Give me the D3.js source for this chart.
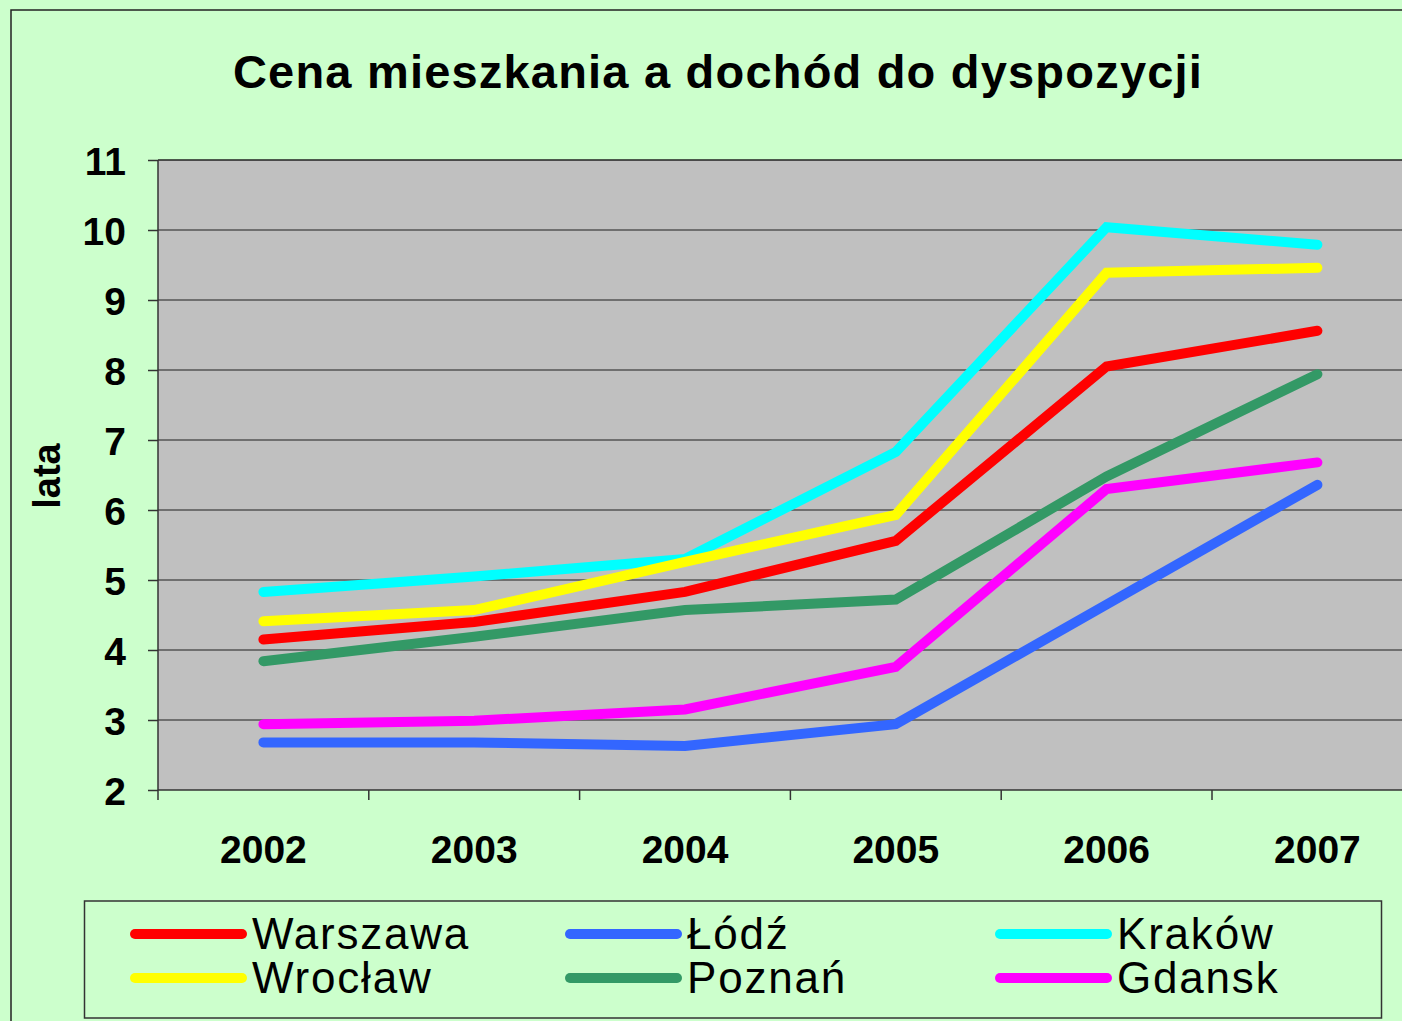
<!DOCTYPE html>
<html><head><meta charset="utf-8">
<script src="https://cdn.jsdelivr.net/npm/d3@7"></script>
<style>
html,body{margin:0;padding:0;background:#CCFFCC;}
svg{display:block;font-family:"Liberation Sans",Arial,sans-serif;}
</style></head>
<body>
<svg id="chart" width="1402" height="1021"></svg>
<script>
const years = ["2002","2003","2004","2005","2006","2007"];
const cities = ["Warszawa","Łódź","Kraków","Wrocław","Poznań","Gdansk"];
const colors = ["#FF0000","#3366FF","#00FFFF","#FFFF00","#339966","#FF00FF"];
const warszawa = [4.15, 4.40, 4.83, 5.56, 8.05, 8.56];
const lodz     = [2.68, 2.68, 2.63, 2.94, 4.65, 6.36];
const krakow   = [4.83, 5.05, 5.30, 6.83, 10.04, 9.79];
const wroclaw  = [4.41, 4.57, 5.26, 5.93, 9.39, 9.46];
const poznan   = [3.84, 4.19, 4.57, 4.72, 6.48, 7.94];
const gdansk   = [2.94, 2.99, 3.15, 3.76, 6.30, 6.68];
const yTicks = [2,3,4,5,6,7,8,9,10,11];
const title = "Cena mieszkania a dochód do dyspozycji";
const yTitle = "lata";

const series = [warszawa, lodz, krakow, wroclaw, poznan, gdansk];
const drawOrder = [1,5,4,0,2,3];

const svg = d3.select("#chart");
svg.append("rect").attr("width",1402).attr("height",1021).attr("fill","#CCFFCC");
svg.append("rect").attr("x",11).attr("y",10).attr("width",1500).attr("height",1100)
  .attr("fill","#CCFFCC").attr("stroke","#222").attr("stroke-width",1.5);

const pLeft=158, pTop=160, pBottom=790, bandW=210.8;
const pRight = pLeft+bandW*years.length;
const x = d3.scaleBand().domain(years).range([pLeft, pRight]).padding(0);
const y = d3.scaleLinear().domain([2,11]).range([pBottom, pTop]);

svg.append("rect").attr("x",pLeft).attr("y",pTop).attr("width",pRight-pLeft).attr("height",pBottom-pTop)
  .attr("fill","#C0C0C0");

// gridlines
svg.append("g").selectAll("line").data(yTicks.filter(d=>d>2)).join("line")
  .attr("x1",pLeft).attr("x2",pRight)
  .attr("y1",d=>y(d)).attr("y2",d=>y(d))
  .attr("stroke",d=>d===11?"#222":"#555").attr("stroke-width",1.5);

// y axis
const yAxis = d3.axisLeft(y).tickValues(yTicks).tickSize(10).tickPadding(22).tickFormat(d3.format("d"));
const gy = svg.append("g").attr("transform",`translate(${pLeft},0)`).call(yAxis);
gy.select(".domain").attr("stroke","#333").attr("stroke-width",1.5).attr("d",`M0,${pTop}V${pBottom}`);
gy.selectAll(".tick line").attr("stroke","#333").attr("stroke-width",1.5);
gy.selectAll(".tick text").attr("font-size",39).attr("font-weight","bold").attr("fill","#000")
  .attr("font-family","Liberation Sans, Arial, sans-serif").attr("dy","0.36em");

// x axis
const xAxis = d3.axisBottom(x).tickSize(0).tickPadding(0);
const gx = svg.append("g").attr("transform",`translate(0,${pBottom})`).call(xAxis);
gx.select(".domain").remove();
gx.selectAll(".tick text").attr("font-size",39).attr("font-weight","bold").attr("fill","#000")
  .attr("font-family","Liberation Sans, Arial, sans-serif").attr("y",73).attr("dy",0);
svg.append("g").selectAll("line").data(years).join("line")
  .attr("x1",d=>x(d)).attr("x2",d=>x(d)).attr("y1",pBottom).attr("y2",pBottom+10)
  .attr("stroke","#333").attr("stroke-width",1.5);
svg.append("line").attr("x1",pLeft).attr("x2",pRight).attr("y1",pBottom).attr("y2",pBottom)
  .attr("stroke","#333").attr("stroke-width",1.5);

// lines
const line = d3.line().x((d,i)=>x(years[i])+x.bandwidth()/2).y(d=>y(d));
svg.append("g").selectAll("path").data(drawOrder).join("path")
  .attr("d",i=>line(series[i])).attr("fill","none").attr("stroke",i=>colors[i])
  .attr("stroke-width",10).attr("stroke-linecap","round").attr("stroke-linejoin","miter");

// title
svg.append("text").attr("x",718).attr("y",88).attr("text-anchor","middle")
  .attr("font-size",47).attr("font-weight","bold").attr("letter-spacing",1.2).text(title);

// y title
svg.append("text").attr("transform","translate(60,476) rotate(-90)").attr("text-anchor","middle")
  .attr("font-size",38).attr("font-weight","bold").text(yTitle);

// legend
svg.append("rect").attr("x",84.5).attr("y",901).attr("width",1297).attr("height",117)
  .attr("fill","#CCFFCC").attr("stroke","#333").attr("stroke-width",1.5);
const colX = [135, 570, 1000];
const rowY = [934, 978];
const legOrder = [0,3,1,4,2,5];
const lg = svg.append("g").selectAll("g").data(legOrder).join("g")
  .attr("transform",(d,k)=>`translate(${colX[Math.floor(k/2)]},${rowY[k%2]})`);
lg.append("line").attr("x1",0).attr("x2",107).attr("stroke",d=>colors[d])
  .attr("stroke-width",10).attr("stroke-linecap","round");
lg.append("text").attr("x",117).attr("y",15).attr("font-size",44).attr("letter-spacing",1.8)
  .text(d=>cities[d]);
</script>
</body></html>
